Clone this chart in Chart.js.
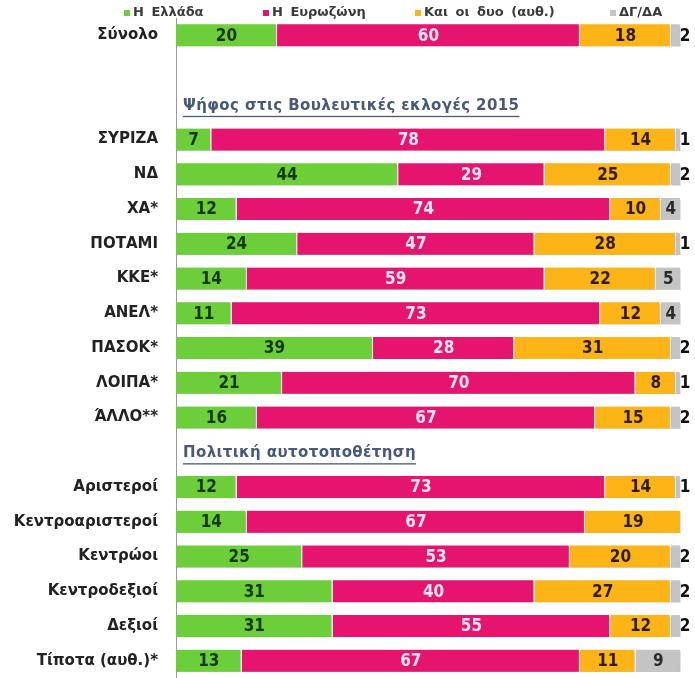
<!DOCTYPE html>
<html><head><meta charset="utf-8">
<script src="https://cdn.jsdelivr.net/npm/chart.js@4.4.1/dist/chart.umd.min.js"></script>
<style>html,body{margin:0;padding:0;background:#fff;overflow:hidden}canvas{display:block}</style>
</head><body><canvas id="c" width="695" height="678"></canvas>
<script>
const categories = ["Σύνολο","","","ΣΥΡΙΖΑ","ΝΔ","ΧΑ*","ΠΟΤΑΜΙ","ΚΚΕ*","ΑΝΕΛ*","ΠΑΣΟΚ*","ΛΟΙΠΑ*","ΆΛΛΟ**","","Αριστεροί","Κεντροαριστεροί","Κεντρώοι","Κεντροδεξιοί","Δεξιοί","Τίποτα (αυθ.)*"];
const seriesNames = ["Η Ελλάδα","Η Ευρωζώνη","Και οι δυο (αυθ.)","ΔΓ/ΔΑ"];
const greece   = [20,null,null, 7,44,12,24,14,11,39,21,16,null,12,14,25,31,31,13];
const eurozone = [60,null,null,78,29,74,47,59,73,28,70,67,null,73,67,53,40,55,67];
const both     = [18,null,null,14,25,10,28,22,12,31, 8,15,null,14,19,20,27,12,11];
const dkda     = [ 2,null,null, 1, 2, 4, 1, 5, 4, 2, 1, 2,null, 1, 0, 2, 2, 2, 9];
// section titles, keyed by the first category below them
const sectionTitles = {"ΣΥΡΙΖΑ":"Ψήφος στις Βουλευτικές εκλογές 2015","Αριστεροί":"Πολιτική αυτοτοποθέτηση"};

const colors = ['#6ccf3a','#e5146f','#fdb416','#c4c4c4'];
const labelColors = ['#17370c','#fde6f0','#2e1d00','#2a2a2a'];
const valueFont = "bold 17px 'DejaVu Sans Condensed','DejaVu Sans',sans-serif";
const legendX = [124,263,415,610];

const shadowPlugin = {
  id:'shadow',
  beforeDatasetsDraw(chart){const c=chart.ctx;c.save();c.shadowColor='rgba(0,0,0,0.35)';c.shadowOffsetY=2;c.shadowBlur=2;},
  afterDatasetsDraw(chart){chart.ctx.restore();}
};

const valuePlugin = {
  id:'values',
  afterDatasetsDraw(chart){
    const c=chart.ctx, area=chart.chartArea;
    c.save();
    c.font=valueFont;c.textBaseline='middle';c.textAlign='center';
    chart.data.datasets.forEach((ds,di)=>{
      const meta=chart.getDatasetMeta(di);
      meta.data.forEach((bar,i)=>{
        const v=ds.data[i];
        if(v===null||v===0) return;
        let x=(bar.x+bar.base)/2;
        c.fillStyle=labelColors[di];
        if(di===3 && v<=2){ x=area.right+4; c.fillStyle='#111'; }
        c.fillText(String(v),x,bar.y+1);
      });
    });
    c.restore();
  }
};

const legendPlugin = {
  id:'customLegend',
  afterDraw(chart){
    const c=chart.ctx;
    c.save();
    c.font="bold 13px 'DejaVu Sans',sans-serif";c.textBaseline='middle';c.textAlign='left';
    c.wordSpacing='3px';
    const y=13;
    chart.data.datasets.forEach((ds,di)=>{
      const x=legendX[di];
      c.fillStyle=colors[di];
      c.fillRect(x,y-3,6,6);
      c.fillStyle='#3a3a3a';
      c.fillText(ds.label,x+9,y);
    });
    c.restore();
  }
};

const sectionPlugin = {
  id:'sections',
  afterDraw(chart){
    const c=chart.ctx, ys=chart.scales.y, area=chart.chartArea;
    c.save();
    c.font="bold 15px 'DejaVu Sans',sans-serif";c.textBaseline='middle';c.textAlign='left';
    c.letterSpacing='0.4px';
    Object.keys(sectionTitles).forEach(k=>{
      const idx=categories.indexOf(k);
      const y=ys.getPixelForValue(idx-1)+1;
      const t=sectionTitles[k];
      const x=area.left+7;
      c.fillStyle='#4a5a76';
      c.fillText(t,x,y);
      const w=c.measureText(t).width;
      c.fillRect(x,y+10,w,1.3);
    });
    c.restore();
  }
};

const datasets=[greece,eurozone,both,dkda].map((d,i)=>({
  label:seriesNames[i],data:d,backgroundColor:colors[i],
  borderColor:'#ffffff',borderWidth:{left:0,right:1.5,top:0,bottom:0},borderSkipped:false,
  barThickness:22
}));

new Chart(document.getElementById('c'),{
  type:'bar',
  data:{labels:categories,datasets},
  options:{
    indexAxis:'y',responsive:false,animation:false,
    layout:{padding:{top:18,right:14,bottom:0,left:0}},
    plugins:{legend:{display:false},tooltip:{enabled:false}},
    scales:{
      x:{stacked:true,min:0,max:100,display:false},
      y:{stacked:true,grid:{display:false,drawTicks:false},border:{display:true,color:'#9a9a9a',width:1},
         ticks:{autoSkip:false,padding:18,color:'#222',font:{family:"'DejaVu Sans'",size:15,weight:'bold'}},
         afterFit(s){s.width=176;s.paddingTop=0;s.paddingBottom=0;}}
    }
  },
  plugins:[shadowPlugin,valuePlugin,legendPlugin,sectionPlugin]
});
</script></body></html>
